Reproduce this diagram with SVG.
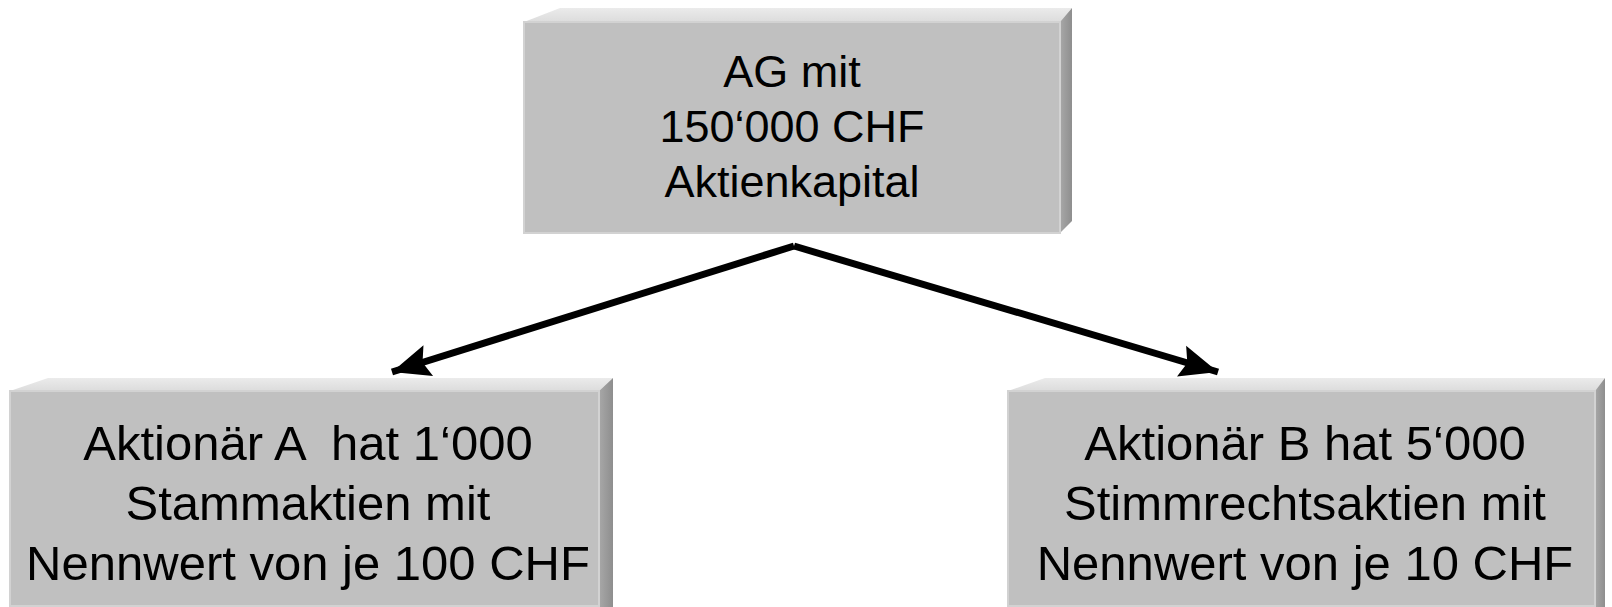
<svg xmlns="http://www.w3.org/2000/svg" width="1612" height="607" viewBox="0 0 1612 607">
<defs>
<linearGradient id="side" x1="0" y1="0" x2="1" y2="0">
<stop offset="0" stop-color="#a8a8a8"/>
<stop offset="1" stop-color="#8e8e8e"/>
</linearGradient>
<linearGradient id="topf" x1="0" y1="0" x2="0" y2="1">
<stop offset="0" stop-color="#ebebeb"/>
<stop offset="1" stop-color="#dcdcdc"/>
</linearGradient>
<marker id="arr" markerUnits="userSpaceOnUse" markerWidth="40" markerHeight="40" viewBox="0 0 40 40" refX="38" refY="20" orient="auto">
<path d="M0,4 L38,20 L0,36 L6,20 Z" fill="#000"/>
</marker>
</defs>
<style>
.front{fill:#c0c0c0;stroke:#d2d2d2;stroke-width:2}
.top{fill:url(#topf)}
.side{fill:url(#side)}
.t{font-family:"Liberation Sans",Arial,sans-serif;fill:#000;text-anchor:middle}
.conn{fill:none;stroke:#000;stroke-width:7;stroke-linejoin:miter}
</style>
<rect width="1612" height="607" fill="#fff"/>
<g id="node-ag">
<polygon class="top" points="524,22 560,8 1072,8 1060,22"/>
<polygon class="side" points="1060,22 1072,8 1072,221 1060,233"/>
<rect class="front" x="524" y="22" width="536" height="211"/>
<text class="t" font-size="45"><tspan x="792" y="87">AG mit</tspan><tspan x="792" y="142">150‘000 CHF</tspan><tspan x="792" y="197">Aktienkapital</tspan></text>
</g>
<g id="node-a">
<polygon class="top" points="10,391 48,378 613,378 599,391"/>
<polygon class="side" points="599,391 613,378 613,607 599,607"/>
<rect class="front" x="10" y="391" width="589" height="215"/>
<text class="t" font-size="49" xml:space="preserve"><tspan x="308" y="460">Aktionär A  hat 1‘000</tspan><tspan x="308" y="520">Stammaktien mit</tspan><tspan x="308" y="580">Nennwert von je 100 CHF</tspan></text>
</g>
<g id="node-b">
<polygon class="top" points="1008,391 1045,378 1605,378 1595,391"/>
<polygon class="side" points="1595,391 1605,378 1605,607 1595,607"/>
<rect class="front" x="1008" y="391" width="587" height="215"/>
<text class="t" font-size="49"><tspan x="1305" y="460">Aktionär B hat 5‘000</tspan><tspan x="1305" y="520">Stimmrechtsaktien mit</tspan><tspan x="1305" y="580">Nennwert von je 10 CHF</tspan></text>
</g>
<g id="connectors">
<path class="conn" d="M794,246 L392,372" marker-end="url(#arr)"/>
<path class="conn" d="M794,246 L1218,372" marker-end="url(#arr)"/>
</g>
</svg>
